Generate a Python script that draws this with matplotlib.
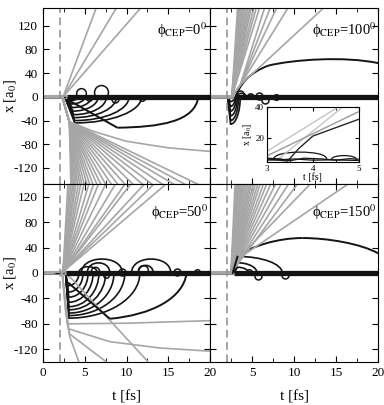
import matplotlib
matplotlib.use("Agg")
import matplotlib.pyplot as plt
from matplotlib.path import Path
from matplotlib.patches import PathPatch
from matplotlib.ticker import MultipleLocator

plt.rcParams['font.family'] = ['Liberation Serif', 'DejaVu Serif']
plt.rcParams['mathtext.fontset'] = 'stix'
plt.rcParams['axes.unicode_minus'] = False

GRAY = '#a6a6a6'
BLACK = '#141414'

# ---------------- phi_CEP = 0 (top left) ----------------
p0_up_start = (2.4, 0)
p0_up_exit = [6.5, 9.0, 12.0]
p0_down_start = (2.3, 0)
p0_down_knee = (3.15, -42)
p0_down_exit = [3.35, 3.5, 3.65, 3.8, 4.0, 4.2, 4.45, 4.7, 5.0, 5.35, 5.7, 6.1,
                6.6, 7.1, 7.7, 8.4, 9.2, 10.1, 11.1, 12.3, 13.5, 14.8, 16.2, 17.6, 19.2]
p0_gray_extra = [[(3.2, -42), (6, -58), (10, -75), (15, -86), (20, -92)]]
# dips: (t start, t of min, depth, t return)
p0_dips = [(2.6, 3.3, -6, 4.3), (2.6, 3.4, -12, 5.0), (2.6, 3.5, -18, 5.8),
           (2.6, 3.6, -24, 6.6), (2.6, 3.7, -30, 7.6), (2.6, 3.7, -35, 8.8),
           (2.6, 3.8, -40, 10.3), (2.6, 3.8, -44, 11.8)]
p0_black_extra = [[(3.0, -5), (8.9, -52)]]
p0_black_arcs = [[(8.9, -52), (14.0, -51), (18.2, -42), (18.6, 0)]]
p0_humps = []
p0_loops = [(4.6, 7, 7), (7.0, 8, 10), (8.6, -3, 5), (11.8, -2, 4), (5.5, -2, 4)]
p0_band = (2.9, 20)

# ---------------- phi_CEP = 100 (top right) ----------------
p100_up_start = (2.6, 0)
p100_up_exit = [3.3, 3.45, 3.6, 3.75, 3.9, 4.05, 4.2, 4.4, 4.6, 4.8, 5.0, 5.3, 5.6, 6.0]
p100_up_knee = (3.6, 20)
p100_up_knee_exit = [6.6, 7.3, 8.1, 9.5, 13.9]
p100_down_exit = []
p100_gray_extra = []
p100_dips = [(2.1, 2.45, -8, 2.9), (2.1, 2.45, -16, 3.0), (2.1, 2.45, -24, 3.1),
             (2.1, 2.45, -32, 3.25), (2.1, 2.45, -40, 3.4), (2.1, 2.45, -46, 3.6)]
p100_black_extra = []
p100_black_arcs = [[(3.0, 0), (3.6, 20), (4.5, 40), (7.0, 53)],
                   [(7.0, 53), (10.0, 63), (16.0, 69), (20.0, 57)]]
p100_humps = [(3.2, 4.3, 6), (4.5, 5.2, 5)]
p100_loops = [(3.6, 5, 5), (5.8, 2, 5), (6.6, -5, 5), (7.8, 0, 4)]
p100_band = (3.0, 20)

# inset of phi_CEP = 100
ins_light = [[(3.0, 11), (4.55, 40)], [(3.25, 6), (4.65, 40)]]
ins_mid = [[(3.0, 8), (5.0, 37)]]
ins_dark = [[(3.0, 6), (3.45, 4.6), (3.7, 13), (4.0, 21), (5.0, 32)]]
ins_bound = [[(3.0, 6.5), (3.3, 6.0), (3.5, 4.8), (3.8, 6.5), (4.2, 6.0), (4.5, 5.2), (4.8, 6.2), (5.0, 5.8)],
             [(3.0, 5.2), (3.3, 5.5), (3.6, 6.0), (4.0, 5.2), (4.4, 5.4), (5.0, 5.0)]]
ins_humps = [(3.15, 4.3, 6.0, 10.5), (4.4, 4.95, 5.5, 8.2)]

# ---------------- phi_CEP = 50 (bottom left) ----------------
p50_up_start = (2.4, 2)
p50_up_exit = [3.0, 3.2, 3.4, 3.6, 3.8, 4.0, 4.3, 4.6, 5.0, 5.6, 6.2, 6.8, 7.7,
               8.9, 10.1, 10.8, 12.5, 13.7, 15.2]
p50_down_start = (2.3, 0)
p50_down_knee = (2.9, -70)
p50_down_exit = []
p50_gray_extra = [[(2.3, 0), (2.9, -70), (3.0, -80), (10, -79), (20, -75)],
                  [(2.3, 0), (2.9, -75), (3.1, -88), (8, -108), (14, -118), (20, -123)],
                  [(2.3, 0), (2.7, -60), (3.2, -100), (4.3, -140)],
                  [(2.3, 0), (2.9, -80), (3.2, -96), (7.6, -140)],
                  [(2.6, 0), (3.5, -10), (12.6, -140)]]
p50_dips = [(2.7, 3.0, -20, 4.3), (2.7, 3.05, -30, 4.8), (2.7, 3.1, -38, 5.4),
            (2.7, 3.1, -46, 6.0), (2.7, 3.1, -53, 6.7), (2.7, 3.1, -58, 7.5),
            (2.7, 3.1, -63, 8.5), (2.7, 3.1, -67, 9.8), (2.7, 3.1, -71, 11.6)]
p50_black_extra = [[(3.0, -15), (8.0, -72)]]
p50_black_arcs = [[(8.0, -72), (13.0, -66), (16.8, -40), (17.2, 0)]]
p50_humps = [(4.6, 9.5, 22), (5.3, 8.0, 16), (4.3, 6.5, 10), (10.6, 15.3, 22), (11.4, 13.2, 12)]
p50_loops = [(6.2, 3, 6), (9.5, 2, 5), (12.0, 5, 7), (16.0, 2, 5), (18.5, 1, 4), (7.5, -3, 4)]
p50_band = (2.8, 20)

# ---------------- phi_CEP = 150 (bottom right) ----------------
p150_up_start = (2.5, 0)
p150_up_exit = [3.0, 3.15, 3.3, 3.45, 3.6, 3.75, 3.9, 4.05, 4.2, 4.4, 4.6, 4.8, 5.0,
                5.25, 5.5, 5.8, 6.1, 6.5, 6.9, 7.4, 8.0, 8.7, 9.6, 10.7]
p150_up_knee = (3.3, 22)
p150_up_knee_exit = [12.3, 17.0]
p150_down_exit = []
p150_gray_extra = []
p150_dips = [(2.8, 3.3, 9, 4.6), (2.8, 3.3, 16, 5.6), (2.8, 3.3, 26, 8.6)]
p150_black_extra = [[(2.7, 0), (3.3, 27)]]
p150_black_arcs = [[(3.3, 27), (5.0, 42), (8.0, 55), (11.0, 55)],
                   [(11.0, 55), (14.0, 55), (18.0, 46), (20.0, 31)]]
p150_humps = []
p150_loops = [(5.7, -4, 5), (8.9, -3, 5), (4.7, 2, 4)]
p150_band = (2.8, 20)


def cubic(ax, pts, color=BLACK, lw=1.2):
    verts = list(pts)
    codes = [Path.MOVETO] + [Path.CURVE4] * (len(verts) - 1)
    ax.add_patch(PathPatch(Path(verts, codes), fc='none', ec=color, lw=lw))


def dip(ax, t0, tm, d, tr, color=BLACK, lw=1.2, base=0.0):
    verts = [(t0, base), (tm, base + d), (tm + 0.55 * (tr - tm), base + d),
             (tr, base + 0.55 * d), (tr, base)]
    codes = [Path.MOVETO, Path.LINETO, Path.CURVE4, Path.CURVE4, Path.CURVE4]
    ax.add_patch(PathPatch(Path(verts, codes), fc='none', ec=color, lw=lw))


def hump(ax, ta, tb, h, color=BLACK, lw=1.2, base=0.0):
    cubic(ax, [(ta, base), (ta, base + 1.33 * h), (tb, base + 1.33 * h), (tb, base)], color, lw)


def line(ax, pts, color, lw=1.2):
    ax.plot([p[0] for p in pts], [p[1] for p in pts], color=color, lw=lw, solid_capstyle='butt')


def draw_panel(ax, d, ylim):
    top, bot = ylim[1] + 5, ylim[0] - 5
    # common flat part before ionisation
    ax.plot([0, 2.6], [0, 0], color=GRAY, lw=3.0)
    ax.plot([0, 2.6], [0, 0], color=BLACK, lw=1.0)
    for te in d['up_exit']:
        line(ax, [(0, 0), d['up_start'], (te, top)], GRAY)
    if d.get('up_knee'):
        for te in d['up_knee_exit']:
            line(ax, [(0, 0), d['up_start'], d['up_knee'], (te, top)], GRAY)
    for te in d['down_exit']:
        line(ax, [(0, 0), d['down_start'], d['down_knee'], (te, bot)], GRAY)
    for pts in d['gray_extra']:
        line(ax, pts, GRAY)
    # bound trajectories
    ax.plot([d['band'][0], d['band'][1]], [0, 0], color=BLACK, lw=3.8, solid_capstyle='butt')
    for t0, tm, dep, tr in d['dips']:
        dip(ax, t0, tm, dep, tr)
    for pts in d['black_extra']:
        line(ax, pts, BLACK, lw=1.4)
    for pts in d['black_arcs']:
        cubic(ax, pts, BLACK, lw=1.4)
    for ta, tb, h in d['humps']:
        hump(ax, ta, tb, h)
    for t, x, s in d['loops']:
        ax.plot(t, x, 'o', mfc='none', mec=BLACK, ms=s, mew=1.1)
    ax.axvline(2.0, color='#8c8c8c', lw=1.1, ls=(0, (5, 3)))
    ax.set_xlim(0, 20)
    ax.set_ylim(*ylim)
    ax.xaxis.set_major_locator(MultipleLocator(5))
    ax.xaxis.set_minor_locator(MultipleLocator(2.5))
    ax.set_yticks([-120, -80, -40, 0, 40, 80, 120])
    ax.tick_params(which='both', direction='in', top=True, right=True, labelsize=9.5)
    ax.tick_params(which='major', length=4)
    ax.tick_params(which='minor', length=3)
    ax.text(d['lab_pos'][0], d['lab_pos'][1], d['label'], transform=ax.transAxes,
            ha='center', va='center', fontsize=10.5)


panels = {
    'tl': dict(up_start=p0_up_start, up_exit=p0_up_exit, down_start=p0_down_start,
               down_knee=p0_down_knee, down_exit=p0_down_exit, gray_extra=p0_gray_extra,
               dips=p0_dips, black_extra=p0_black_extra, black_arcs=p0_black_arcs,
               humps=p0_humps, loops=p0_loops, band=p0_band,
               label='\u03d5$_{\\rm CEP}$=0$^0$', lab_pos=(0.83, 0.875)),
    'tr': dict(up_start=p100_up_start, up_exit=p100_up_exit, up_knee=p100_up_knee,
               up_knee_exit=p100_up_knee_exit, down_exit=p100_down_exit,
               gray_extra=p100_gray_extra, dips=p100_dips, black_extra=p100_black_extra,
               black_arcs=p100_black_arcs, humps=p100_humps, loops=p100_loops,
               band=p100_band, label='\u03d5$_{\\rm CEP}$=100$^0$', lab_pos=(0.8, 0.875)),
    'bl': dict(up_start=p50_up_start, up_exit=p50_up_exit, down_start=p50_down_start,
               down_knee=p50_down_knee, down_exit=p50_down_exit, gray_extra=p50_gray_extra,
               dips=p50_dips, black_extra=p50_black_extra, black_arcs=p50_black_arcs,
               humps=p50_humps, loops=p50_loops, band=p50_band,
               label='\u03d5$_{\\rm CEP}$=50$^0$', lab_pos=(0.82, 0.84)),
    'br': dict(up_start=p150_up_start, up_exit=p150_up_exit, up_knee=p150_up_knee,
               up_knee_exit=p150_up_knee_exit, down_exit=p150_down_exit,
               gray_extra=p150_gray_extra, dips=p150_dips, black_extra=p150_black_extra,
               black_arcs=p150_black_arcs, humps=p150_humps, loops=p150_loops,
               band=p150_band, label='\u03d5$_{\\rm CEP}$=150$^0$', lab_pos=(0.8, 0.84)),
}

fig = plt.figure(figsize=(3.84, 4.05), dpi=100)
L, W1, M, W2 = 0.1120, 0.4349, 0.5469, 0.4375
ax_tl = fig.add_axes([L, 0.5457, W1, 0.4346])
ax_tr = fig.add_axes([M, 0.5457, W2, 0.4346])
ax_bl = fig.add_axes([L, 0.1062, W1, 0.4395])
ax_br = fig.add_axes([M, 0.1062, W2, 0.4395])

draw_panel(ax_tl, panels['tl'], (-147, 150))
draw_panel(ax_tr, panels['tr'], (-147, 150))
draw_panel(ax_bl, panels['bl'], (-140, 140))
draw_panel(ax_br, panels['br'], (-140, 140))

for ax in (ax_tl, ax_tr):
    ax.tick_params(labelbottom=False)
for ax in (ax_tr, ax_br):
    ax.tick_params(labelleft=False)
ax_br.set_xticks([0, 5, 10, 15, 20])
ax_br.set_xticklabels(['', '5', '10', '15', '20'])

for ax in (ax_tl, ax_bl):
    ax.set_ylabel('x [a$_0$]', fontsize=10.5)
    ax.yaxis.set_label_coords(-0.15, 0.5)
ax_bl.set_xlabel('t [fs]', fontsize=11, labelpad=8)
ax_br.set_xlabel('t [fs]', fontsize=11, labelpad=8)

# inset
ins = fig.add_axes([0.695, 0.600, 0.2396, 0.1358])
for pts in ins_light:
    line(ins, pts, '#c4c4c4', lw=1.0)
for pts in ins_mid:
    line(ins, pts, '#9a9a9a', lw=1.0)
for pts in ins_dark:
    line(ins, pts, '#262626', lw=1.0)
for pts in ins_bound:
    line(ins, pts, BLACK, lw=0.9)
for ta, tb, base, peak in ins_humps:
    hump(ins, ta, tb, peak - base, BLACK, lw=0.9, base=base)
ins.set_xlim(3, 5)
ins.set_ylim(4, 40)
ins.set_xticks([3, 4, 5])
ins.set_yticks([20, 40])
ins.xaxis.set_minor_locator(MultipleLocator(0.5))
ins.tick_params(which='both', direction='in', top=True, right=True, labelsize=6.5, pad=2)
ins.tick_params(which='major', length=3)
ins.tick_params(which='minor', length=2)
ins.set_xlabel('t [fs]', fontsize=7, labelpad=0)
ins.set_ylabel('x [a$_0$]', fontsize=7, labelpad=1)

fig.savefig('out.png', dpi=100)
